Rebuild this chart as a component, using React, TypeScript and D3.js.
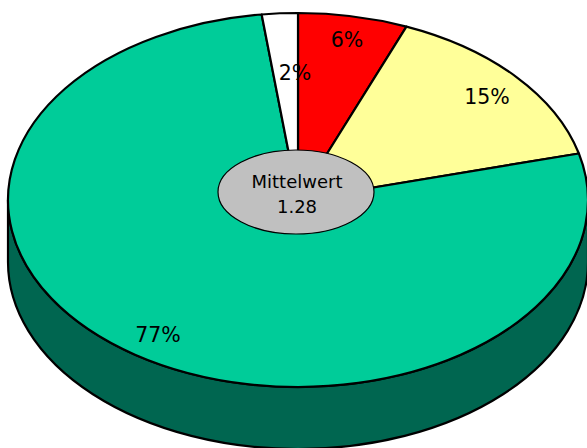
import React from "react";
import * as d3 from "d3";

const categories = ["rot", "gelb", "grün", "weiß"];
const values = [6.1, 14.9, 77, 2];
const labels = ["6%", "15%", "77%", "2%"];
const fills = ["#ff0000", "#ffff99", "#00cc99", "#ffffff"];
const labelPositions = [[347, 40], [487, 97], [158, 335], [295, 73]];
const centerLines = ["Mittelwert", "1.28"];

const W = 587, H = 448;
const cx = 298, cy = 200, rx = 290, ry = 187, depth = 62;

export default function App() {
  const pie = d3.pie<number>().sort(null)(values);
  const arc = d3.arc<d3.PieArcDatum<number>>().innerRadius(0).outerRadius(rx);
  const side = `M${cx - rx},${cy} A${rx},${ry} 0 0 0 ${cx + rx},${cy} L${cx + rx},${cy + depth} A${rx},${ry} 0 0 1 ${cx - rx},${cy + depth} Z`;
  const font = { fontFamily: "'DejaVu Sans', sans-serif", fill: "#000" };
  return (
    <svg width={W} height={H} style={{ position: "fixed", left: 0, top: 0, background: "#fff" }}>
      <path d={side} fill="#006650" stroke="#000" strokeWidth={2.2} strokeLinejoin="round" />
      <g transform={`translate(${cx},${cy}) scale(1,${ry / rx})`}>
        {pie.map((d, i) => (
          <path key={categories[i]} d={arc(d) || ""} fill={fills[i]} stroke="#000" strokeWidth={2.2} vectorEffect="non-scaling-stroke" strokeLinejoin="round" />
        ))}
      </g>
      <ellipse cx={296} cy={192} rx={78} ry={42} fill="#c0c0c0" stroke="#000" strokeWidth={1.2} />
      {labels.map((t, i) => (
        <text key={t} x={labelPositions[i][0]} y={labelPositions[i][1]} dy="0.36em" textAnchor="middle" fontSize={20.5} {...font}>{t}</text>
      ))}
      {centerLines.map((t, i) => (
        <text key={t} x={297} y={182 + i * 25} dy="0.36em" textAnchor="middle" fontSize={18} {...font}>{t}</text>
      ))}
    </svg>
  );
}
